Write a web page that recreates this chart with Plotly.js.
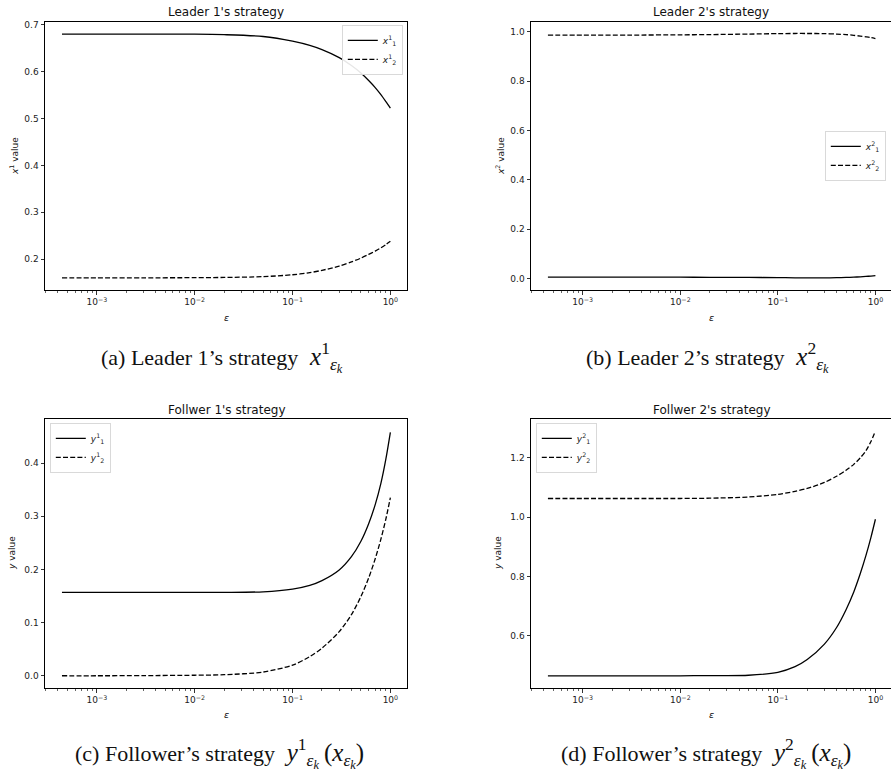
<!DOCTYPE html>
<html>
<head>
<meta charset="utf-8">
<script src="https://cdn.plot.ly/plotly-3.0.1.min.js"></script>
<style>
html, body { margin: 0; padding: 0; overflow: hidden; background: #fff; }
#chart { width: 892px; height: 773px; }
</style>
</head>
<body>
<div id="chart"></div>
<script>
// ---- data ----
const eps = [4.4e-4, 1e-3, 3e-3, 1e-2, 2e-2, 5e-2, 0.1, 0.15, 0.2, 0.3, 0.4, 0.5, 0.6, 0.7, 0.8, 0.9, 1.0];

// Leader 1
const leader1_x1 = [0.680, 0.680, 0.680, 0.680, 0.679, 0.675, 0.665, 0.656, 0.647, 0.630, 0.613, 0.597, 0.581, 0.566, 0.551, 0.536, 0.522];
const leader1_x2 = [0.160, 0.160, 0.160, 0.1603, 0.1608, 0.1625, 0.1665, 0.171, 0.176, 0.185, 0.194, 0.202, 0.210, 0.217, 0.224, 0.231, 0.238];

// Leader 2
const leader2_x1 = [0.006, 0.006, 0.006, 0.0058, 0.0055, 0.005, 0.004, 0.0035, 0.0033, 0.0033, 0.0038, 0.0048, 0.006, 0.0075, 0.009, 0.0105, 0.012];
const leader2_x2 = [0.987, 0.987, 0.987, 0.988, 0.989, 0.991, 0.993, 0.9935, 0.9935, 0.993, 0.991, 0.989, 0.986, 0.983, 0.980, 0.977, 0.973];

// Follower 1
const follower1_y1 = [0.157, 0.157, 0.157, 0.157, 0.157, 0.158, 0.163, 0.170, 0.179, 0.199, 0.224, 0.253, 0.286, 0.322, 0.362, 0.408, 0.458];
const follower1_y2 = [0.000, 0.000, 0.0003, 0.001, 0.002, 0.007, 0.020, 0.036, 0.052, 0.083, 0.115, 0.149, 0.184, 0.220, 0.257, 0.295, 0.335];

// Follower 2
const follower2_y1 = [0.465, 0.465, 0.465, 0.465, 0.466, 0.467, 0.477, 0.496, 0.520, 0.572, 0.628, 0.688, 0.748, 0.810, 0.871, 0.932, 0.993];
const follower2_y2 = [1.063, 1.063, 1.063, 1.063, 1.064, 1.068, 1.077, 1.087, 1.097, 1.117, 1.138, 1.158, 1.178, 1.200, 1.224, 1.255, 1.290];

// tick labels
const xTickVals = [1e-3, 1e-2, 1e-1, 1];
const xTickText = ['10<sup>−3</sup>', '10<sup>−2</sup>', '10<sup>−1</sup>', '10<sup>0</sup>'];
const minorMantissas = [2, 3, 4, 5, 6, 7, 8, 9];
const minorDecades = [1e-4, 1e-3, 1e-2, 1e-1];

const titles = ["Leader 1's strategy", "Leader 2's strategy", "Follwer 1's strategy", "Follwer 2's strategy"];
const yTitles = ['<i>x</i><sup>1</sup> value', '<i>x</i><sup>2</sup> value', '<i>y</i> value', '<i>y</i> value'];
const EK = "<sub><i>ε</i><sub><i>k</i></sub></sub>";
const captions = [
  "(a) Leader 1’s strategy <span style='font-size:25px'> <i>x</i><sup>1</sup>" + EK + "</span>",
  "(b) Leader 2’s strategy <span style='font-size:25px'> <i>x</i><sup>2</sup>" + EK + "</span>",
  "(c) Follower’s strategy <span style='font-size:25px'> <i>y</i><sup>1</sup>" + EK + "\u2009(<i>x</i>" + EK + ")</span>",
  "(d) Follower’s strategy <span style='font-size:25px'> <i>y</i><sup>2</sup>" + EK + "\u2009(<i>x</i>" + EK + ")</span>"
];

// ---- layout helpers ----
const W = 892, H = 773;
const px = v => v / W;
const py = v => 1 - v / H;

const minorVals = [];
minorDecades.forEach(d => minorMantissas.forEach(m => minorVals.push(m * d)));

const solid = {color: '#000', width: 1.3, shape: 'spline', smoothing: 0.8};
const dashed = {color: '#000', width: 1.3, dash: '5px,2.2px', shape: 'spline', smoothing: 0.8};

function tr(y, name, line, xa, ya, leg) {
  return {x: eps, y: y, name: name, mode: 'lines', line: line, xaxis: xa, yaxis: ya, legend: leg, hoverinfo: 'skip'};
}

const data = [
  tr(leader1_x1, '<i>x</i><sup>1</sup><sub>1</sub>', solid, 'x', 'y', 'legend'),
  tr(leader1_x2, '<i>x</i><sup>1</sup><sub>2</sub>', dashed, 'x', 'y', 'legend'),
  tr(leader2_x1, '<i>x</i><sup>2</sup><sub>1</sub>', solid, 'x2', 'y2', 'legend2'),
  tr(leader2_x2, '<i>x</i><sup>2</sup><sub>2</sub>', dashed, 'x2', 'y2', 'legend2'),
  tr(follower1_y1, '<i>y</i><sup>1</sup><sub>1</sub>', solid, 'x3', 'y3', 'legend3'),
  tr(follower1_y2, '<i>y</i><sup>1</sup><sub>2</sub>', dashed, 'x3', 'y3', 'legend3'),
  tr(follower2_y1, '<i>y</i><sup>2</sup><sub>1</sub>', solid, 'x4', 'y4', 'legend4'),
  tr(follower2_y2, '<i>y</i><sup>2</sup><sub>2</sub>', dashed, 'x4', 'y4', 'legend4')
];

const tickFont = {family: 'DejaVu Sans', size: 9, color: '#222'};

function xax(domain, anchor, range) {
  return {
    type: 'log', domain: domain, anchor: anchor, range: range,
    showline: true, mirror: true, linecolor: '#000', linewidth: 1,
    showgrid: false, zeroline: false,
    ticks: 'outside', ticklen: 3.5, tickwidth: 0.8, tickcolor: '#000',
    tickmode: 'array', tickvals: xTickVals, ticktext: xTickText,
    tickfont: tickFont,
    minor: {tickmode: 'array', tickvals: minorVals, ticks: 'outside', ticklen: 2, tickwidth: 0.6, tickcolor: '#000', showgrid: false},
    fixedrange: true
  };
}
function yax(domain, anchor, range, vals) {
  return {
    domain: domain, anchor: anchor, range: range,
    showline: true, mirror: true, linecolor: '#000', linewidth: 1,
    showgrid: false, zeroline: false,
    ticks: 'outside', ticklen: 3.5, tickwidth: 0.8, tickcolor: '#000',
    tickmode: 'array', tickvals: vals, tickformat: '.1f',
    tickfont: tickFont, fixedrange: true
  };
}

const xdomL = [px(45), px(407)];
const xdomR = [px(531), px(892)];
const ydomT = [py(290), py(22)];
const ydomB = [py(688), py(419)];

function legend(x, y, xa, ya) {
  return {
    x: x, y: y, xanchor: xa, yanchor: ya, xref: 'paper', yref: 'paper',
    bgcolor: 'rgba(255,255,255,0.9)', bordercolor: '#d0d0d0', borderwidth: 0.8,
    font: {family: 'DejaVu Sans', size: 9, color: '#222'},
    itemwidth: 30, tracegroupgap: 0
  };
}

const ann = [];
function addAnn(text, x, y, size, family, angle) {
  ann.push({text: text, x: px(x), y: py(y), xref: 'paper', yref: 'paper',
    xanchor: 'center', yanchor: 'middle', showarrow: false, textangle: angle || 0,
    font: {family: family, size: size, color: '#111'}});
}
// subplot titles
addAnn(titles[0], 226, 12, 12, 'DejaVu Sans');
addAnn(titles[1], 711, 12, 12, 'DejaVu Sans');
addAnn(titles[2], 226, 410, 12, 'DejaVu Sans');
addAnn(titles[3], 711, 410, 12, 'DejaVu Sans');
// y titles
addAnn(yTitles[0], 14, 156, 9, 'DejaVu Sans', -90);
addAnn(yTitles[1], 500, 156, 9, 'DejaVu Sans', -90);
addAnn(yTitles[2], 12, 553, 9, 'DejaVu Sans', -90);
addAnn(yTitles[3], 498, 553, 9, 'DejaVu Sans', -90);
// x titles
addAnn('<i>ε</i>', 226, 317, 9.5, 'DejaVu Sans');
addAnn('<i>ε</i>', 711, 317, 9.5, 'DejaVu Sans');
addAnn('<i>ε</i>', 226, 714, 9.5, 'DejaVu Sans');
addAnn('<i>ε</i>', 711, 714, 9.5, 'DejaVu Sans');
// captions
addAnn(captions[0], 222, 357, 22, 'Liberation Serif');
addAnn(captions[1], 707, 357, 22, 'Liberation Serif');
addAnn(captions[2], 219, 753, 22, 'Liberation Serif');
addAnn(captions[3], 706, 753, 22, 'Liberation Serif');

const layout = {
  width: W, height: H,
  margin: {l: 0, r: 0, t: 0, b: 0, pad: 0},
  paper_bgcolor: '#fff', plot_bgcolor: '#fff',
  font: {family: 'DejaVu Sans', size: 9, color: '#222'},
  showlegend: true,
  xaxis: xax(xdomL, 'y', [-3.53, 0.17]),
  yaxis: yax(ydomT, 'x', [0.134, 0.706], [0.2, 0.3, 0.4, 0.5, 0.6, 0.7]),
  xaxis2: xax(xdomR, 'y2', [-3.53, 0.17]),
  yaxis2: yax(ydomT, 'x2', [-0.046, 1.04], [0, 0.2, 0.4, 0.6, 0.8, 1.0]),
  xaxis3: xax(xdomL, 'y3', [-3.53, 0.17]),
  yaxis3: yax(ydomB, 'x3', [-0.023, 0.483], [0, 0.1, 0.2, 0.3, 0.4]),
  xaxis4: xax(xdomR, 'y4', [-3.53, 0.17]),
  yaxis4: yax(ydomB, 'x4', [0.424, 1.331], [0.6, 0.8, 1.0, 1.2]),
  legend: legend(px(403), py(25), 'right', 'top'),
  legend2: legend(px(886), py(156), 'right', 'middle'),
  legend3: legend(px(50), py(423), 'left', 'top'),
  legend4: legend(px(536), py(423), 'left', 'top'),
  annotations: ann
};

Plotly.newPlot('chart', data, layout, {staticPlot: true, displayModeBar: false});
</script>
</body>
</html>
